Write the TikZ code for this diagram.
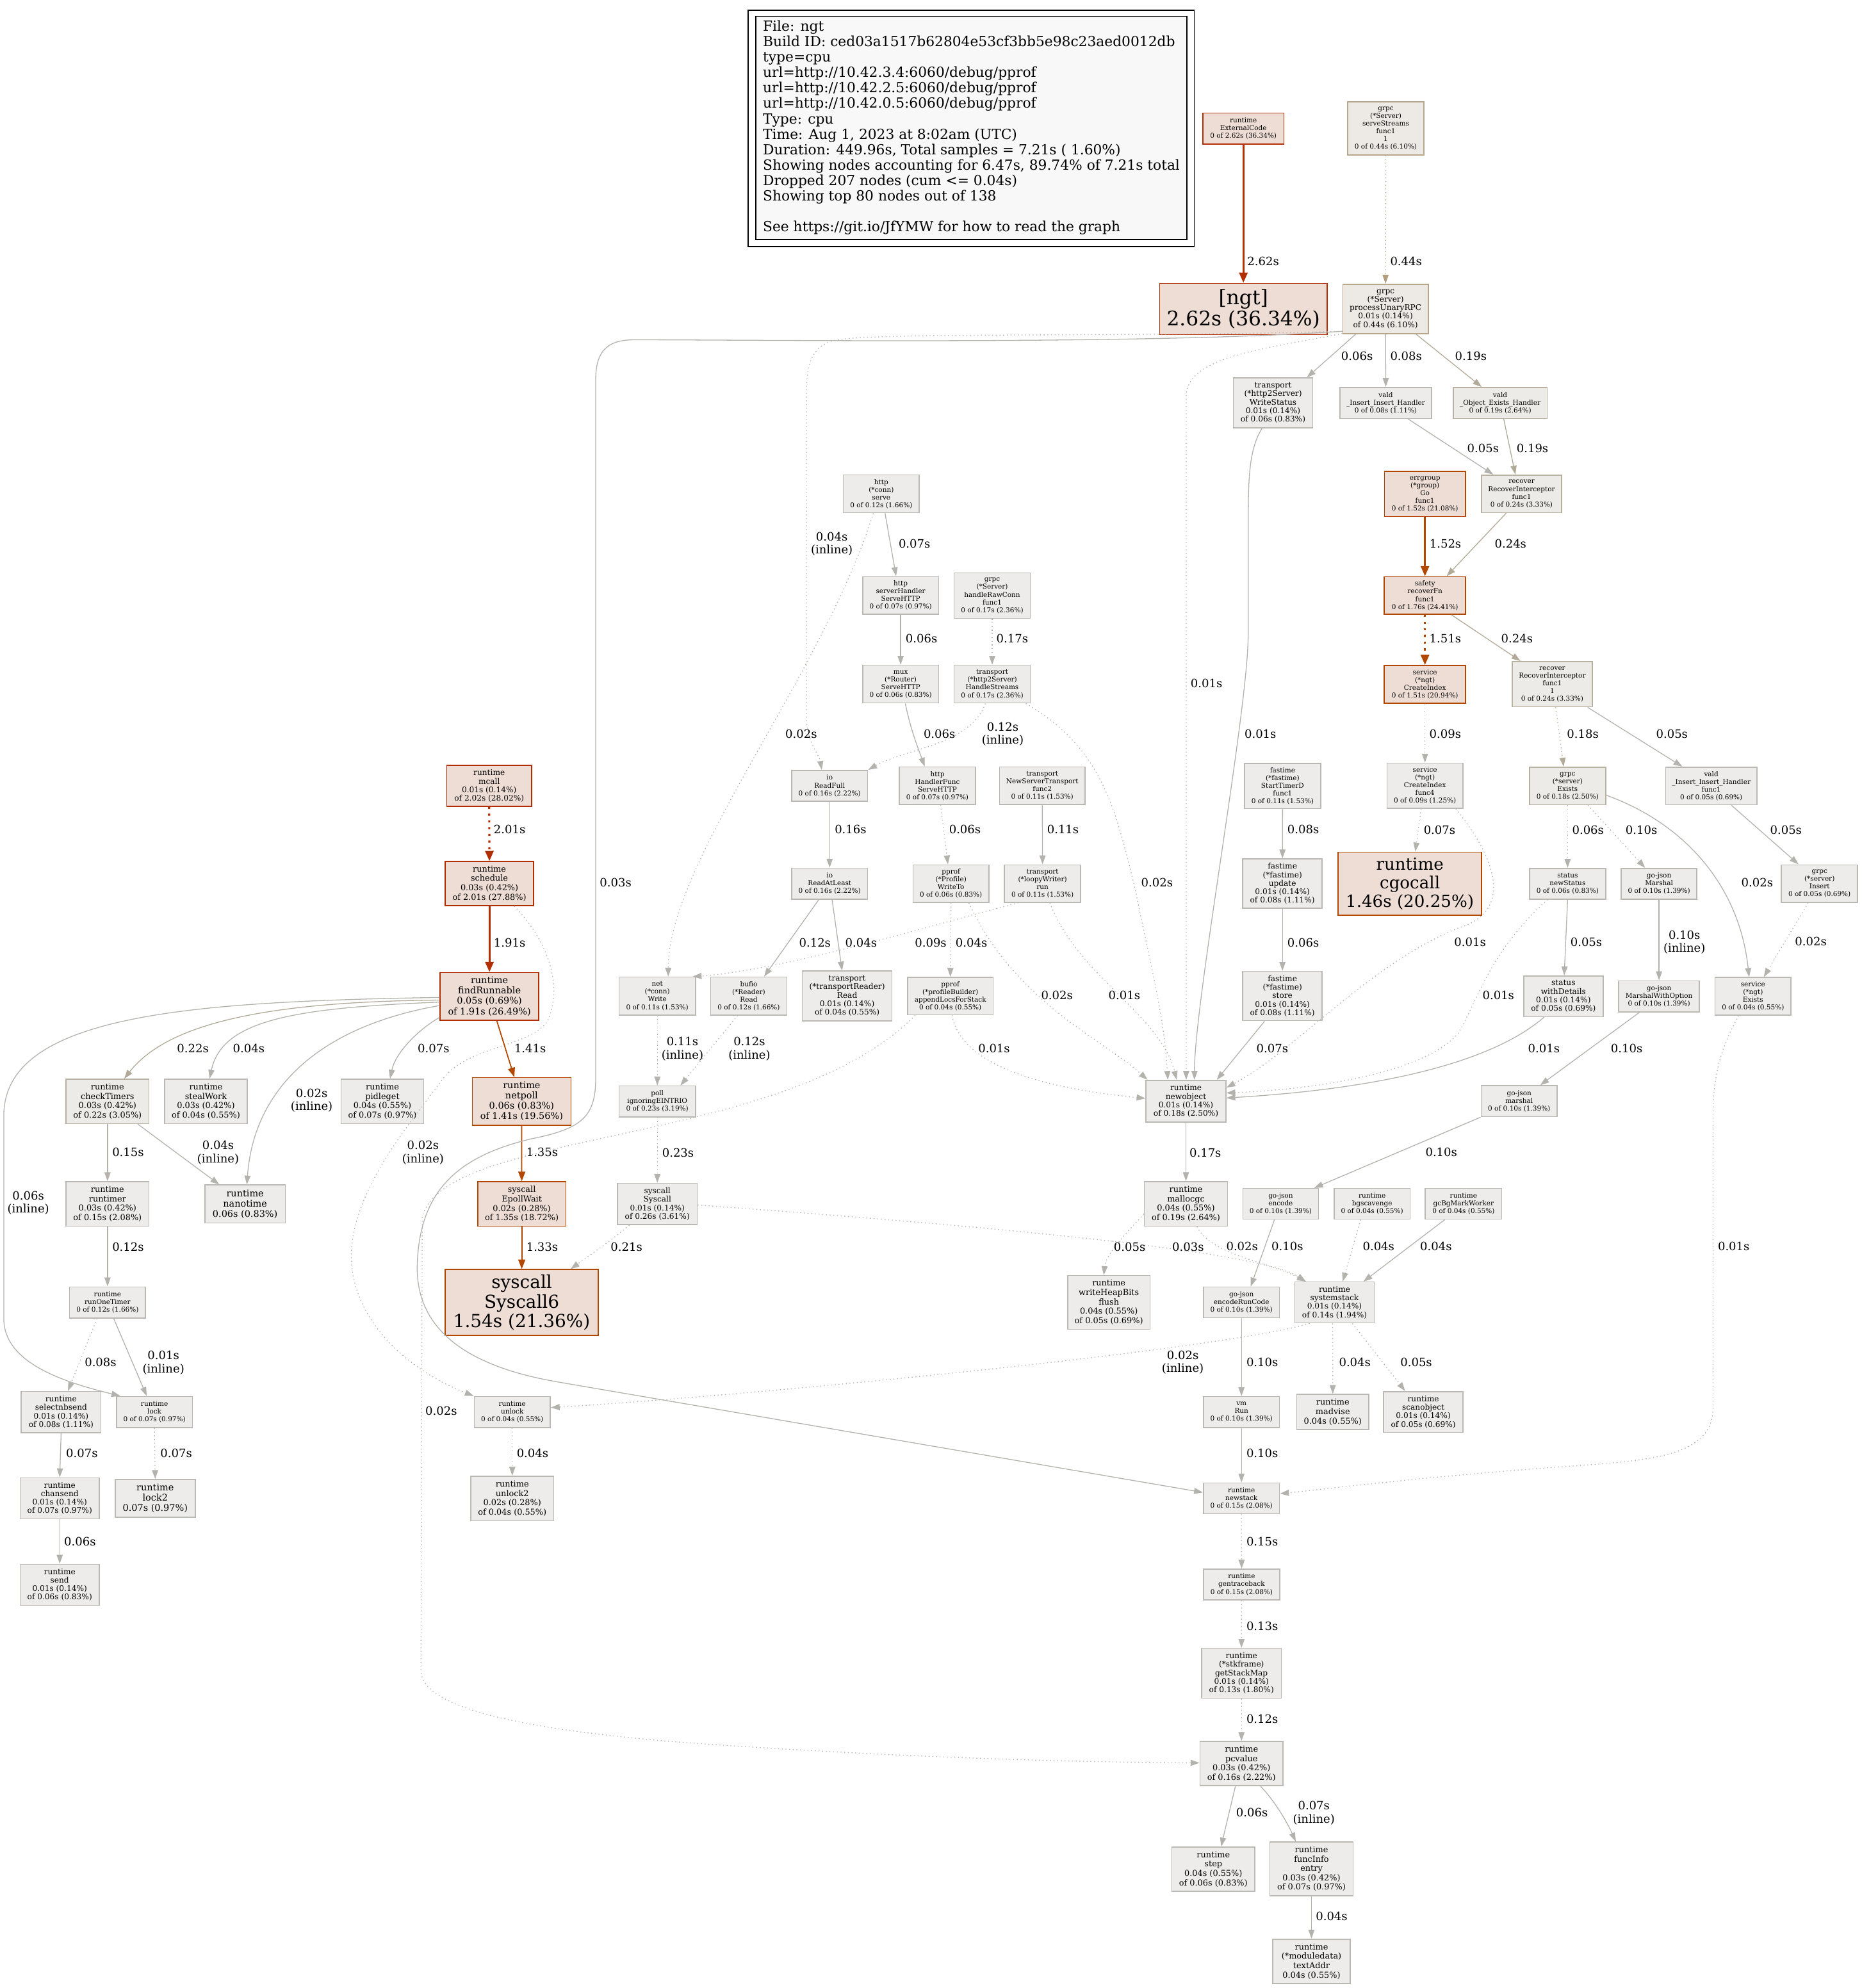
\documentclass[tikz,border=0pt]{standalone}
\usepackage{fontspec}
\setmainfont{DejaVu Serif}
\usetikzlibrary{arrows.meta}
\definecolor{gfill}{RGB}{237,236,234}
\definecolor{gline}{RGB}{186,184,178}
\definecolor{tgfill}{RGB}{237,235,231}
\definecolor{tgline}{RGB}{184,176,160}
\definecolor{tfill}{RGB}{237,233,228}
\definecolor{tline}{RGB}{182,166,138}
\definecolor{hfill}{RGB}{237,221,213}
\definecolor{hlineA}{RGB}{178,46,0}
\definecolor{hlineB}{RGB}{178,72,0}
\definecolor{egray}{RGB}{180,178,172}
\definecolor{etan}{RGB}{178,158,126}
\definecolor{etg}{RGB}{178,170,152}
\definecolor{ered}{RGB}{178,46,0}
\definecolor{eora}{RGB}{178,72,0}
\definecolor{legfill}{RGB}{248,248,248}
\tikzset{
  nbox/.style={rectangle, draw, inner sep=0pt, align=center, line width=0.8pt},
  gbox/.style={nbox, fill=gfill, draw=gline},
  tgbox/.style={nbox, fill=tgfill, draw=tgline},
  tbox/.style={nbox, fill=tfill, draw=tline},
  hboxA/.style={nbox, fill=hfill, draw=hlineA},
  hboxB/.style={nbox, fill=hfill, draw=hlineB},
  wh/.style 2 args={minimum width=#1, minimum height=#2},
  fzero/.style={font=\fontsize{5.3}{6.1}\selectfont},
  fone/.style={font=\fontsize{6.15}{6.7}\selectfont},
  fthree/.style={font=\fontsize{6.5}{7.4}\selectfont},
  ffive/.style={font=\fontsize{7.3}{8.1}\selectfont},
  fngt/.style={font=\fontsize{15.8}{16.9}\selectfont},
  fcgo/.style={font=\fontsize{13.2}{14.8}\selectfont},
  fsix/.style={font=\fontsize{14.1}{15.5}\selectfont},
  lab/.style={font=\fontsize{9.1}{10.4}\selectfont, align=center, inner sep=0pt},
  leg/.style={font=\fontsize{11}{12.2}\selectfont, anchor=base west, inner sep=0pt},
  ln/.style={draw=egray, line width=0.65pt, -{Triangle[length=7pt,width=4.8pt]}},
  dt/.style={dash pattern=on 0.7pt off 2.2pt},
  dth/.style={dash pattern=on 1.7pt off 3.6pt},
  hv/.style={draw=#1, line width=1.6pt, -{Triangle[length=8pt,width=6.5pt]}},
  md/.style={draw=#1, line width=0.9pt, -{Triangle[length=7.5pt,width=5.5pt]}},
}
\begin{document}
\begin{tikzpicture}[x=1pt,y=-1pt]
\useasboundingbox (0,0) rectangle (1468,1568);
\fill[white] (0,0) rectangle (1468,1568);

% legend
\draw[line width=0.7pt] (590,8) rectangle (942,194.5);
\draw[line width=0.7pt, fill=legfill] (596,13) rectangle (936,189);
\node[leg] (g0) at (601.5,24.4) {File: ngt};
\node[leg] (g1) at (601.5,36.6) {Build ID: ced03a1517b62804e53cf3bb5e98c23aed0012db};
\node[leg] (g2) at (601.5,48.8) {type=cpu};
\node[leg] (g3) at (601.5,60.9) {url=http://10.42.3.4:6060/debug/pprof};
\node[leg] (g4) at (601.5,73.1) {url=http://10.42.2.5:6060/debug/pprof};
\node[leg] (g5) at (601.5,85.3) {url=http://10.42.0.5:6060/debug/pprof};
\node[leg] (g6) at (601.5,97.5) {Type: cpu};
\node[leg] (g7) at (601.5,109.7) {Time: Aug 1, 2023 at 8:02am (UTC)};
\node[leg] (g8) at (601.5,121.8) {Duration: 449.96s, Total samples = 7.21s ( 1.60\%)};
\node[leg] (g9) at (601.5,134.0) {Showing nodes accounting for 6.47s, 89.74\% of 7.21s total};
\node[leg] (g10) at (601.5,146.2) {Dropped 207 nodes (cum <= 0.04s)};
\node[leg] (g11) at (601.5,158.4) {Showing top 80 nodes out of 138};
\node[leg] (g13) at (601.5,182.7) {See https://git.io/JfYMW for how to read the graph};

% nodes
\node[hboxA,fzero,wh={63.8}{24.4}] (ext) at (980.6,101.4) {runtime\\ExternalCode\\0 of 2.62s (36.34\%)};
\node[tbox,fzero,wh={60}{41.7}] (sstr) at (1092.9,101.3) {grpc\\(*Server)\\serveStreams\\func1\\1\\0 of 0.44s (6.10\%)};
\node[hboxA,fngt,wh={132.2}{40.5}] (ngt) at (980.6,243.7) {[ngt]\\2.62s (36.34\%)};
\node[tbox,fone,wh={67.3}{38.9}] (proc) at (1092.7,243.6) {grpc\\(*Server)\\processUnaryRPC\\0.01s (0.14\%)\\of 0.44s (6.10\%)};
\node[gbox,fone,wh={62.7}{39.2}] (wst) at (1004,317.7) {transport\\(*http2Server)\\WriteStatus\\0.01s (0.14\%)\\of 0.06s (0.83\%)};
\node[gbox,fzero,wh={72.2}{24.5}] (vins) at (1092.9,317.8) {vald\\\_Insert\_Insert\_Handler\\0 of 0.08s (1.11\%)};
\node[tgbox,fzero,wh={74}{24.5}] (vobj) at (1183.1,317.8) {vald\\\_Object\_Exists\_Handler\\0 of 0.19s (2.64\%)};
\node[hboxB,fzero,wh={63.8}{35.6}] (errg) at (1123.8,389.6) {errgroup\\(*group)\\Go\\func1\\0 of 1.52s (21.08\%)};
\node[tgbox,fzero,wh={63.3}{29.6}] (rif) at (1200,389.5) {recover\\RecoverInterceptor\\func1\\0 of 0.24s (3.33\%)};
\node[hboxB,fzero,wh={64.1}{29.7}] (safe) at (1123.8,469.7) {safety\\recoverFn\\func1\\0 of 1.76s (24.41\%)};
\node[hboxB,fzero,wh={64.1}{29.8}] (cidx) at (1123.8,539.8) {service\\(*ngt)\\CreateIndex\\0 of 1.51s (20.94\%)};
\node[tgbox,fzero,wh={63.2}{35.8}] (rif1) at (1224.2,539.6) {recover\\RecoverInterceptor\\func1\\1\\0 of 0.24s (3.33\%)};
\node[gbox,fzero,wh={60}{35.6}] (cif4) at (1123.8,619.7) {service\\(*ngt)\\CreateIndex\\func4\\0 of 0.09s (1.25\%)};
\node[tgbox,fzero,wh={60}{29.7}] (gex) at (1236.3,619.9) {grpc\\(*server)\\Exists\\0 of 0.18s (2.50\%)};
\node[gbox,fzero,wh={71.9}{29.7}] (vf1) at (1349.6,619.9) {vald\\\_Insert\_Insert\_Handler\\func1\\0 of 0.05s (0.69\%)};
\node[hboxB,fcgo,wh={113.1}{50}] (cgo) at (1111.9,697) {runtime\\cgocall\\1.46s (20.25\%)};
\node[gbox,fzero,wh={60}{24.2}] (nst) at (1236.3,697) {status\\newStatus\\0 of 0.06s (0.83\%)};
\node[gbox,fzero,wh={59.7}{24.2}] (gjm) at (1308.4,697) {go-json\\Marshal\\0 of 0.10s (1.39\%)};
\node[gbox,fzero,wh={60.1}{29.6}] (gin) at (1435,696.9) {grpc\\(*server)\\Insert\\0 of 0.05s (0.69\%)};
\node[gbox,fone,wh={62.6}{32.2}] (wdet) at (1233,785.8) {status\\withDetails\\0.01s (0.14\%)\\of 0.05s (0.69\%)};
\node[gbox,fzero,wh={63.8}{24.5}] (mwo) at (1308.4,785.8) {go-json\\MarshalWithOption\\0 of 0.10s (1.39\%)};
\node[gbox,fzero,wh={60}{29.6}] (sex) at (1382.5,785.8) {service\\(*ngt)\\Exists\\0 of 0.04s (0.55\%)};
\node[gbox,fzero,wh={60}{24.5}] (jmar) at (1198.1,868.5) {go-json\\marshal\\0 of 0.10s (1.39\%)};
\node[gbox,fzero,wh={59.7}{24.2}] (jenc) at (1010,949.5) {go-json\\encode\\0 of 0.10s (1.39\%)};
\node[gbox,fzero,wh={60}{24.2}] (bgs) at (1082.1,949.5) {runtime\\bgscavenge\\0 of 0.04s (0.55\%)};
\node[gbox,fzero,wh={60.3}{24.2}] (gcbg) at (1154.2,949.5) {runtime\\gcBgMarkWorker\\0 of 0.04s (0.55\%)};
\node[gbox,fzero,wh={59.9}{24.3}] (erc) at (979.1,1027.2) {go-json\\encodeRunCode\\0 of 0.10s (1.39\%)};
\node[gbox,fone,wh={62.6}{32.3}] (sysst) at (1052.5,1027.3) {runtime\\systemstack\\0.01s (0.14\%)\\of 0.14s (1.94\%)};
\node[gbox,fzero,wh={60}{24.4}] (vmrun) at (979.1,1113.7) {vm\\Run\\0 of 0.10s (1.39\%)};
\node[gbox,fthree,wh={56.7}{27.8}] (madv) at (1051.1,1113.7) {runtime\\madvise\\0.04s (0.55\%)};
\node[gbox,fone,wh={62.6}{32.3}] (scan) at (1122.5,1113.7) {runtime\\scanobject\\0.01s (0.14\%)\\of 0.05s (0.69\%)};
\node[gbox,fzero,wh={60}{24.3}] (nstk) at (979.1,1181.8) {runtime\\newstack\\0 of 0.15s (2.08\%)};
\node[gbox,fzero,wh={60.3}{24.2}] (gtb) at (979.2,1249.7) {runtime\\gentraceback\\0 of 0.15s (2.08\%)};
\node[gbox,fone,wh={62.7}{39.4}] (gsm) at (979.1,1319.8) {runtime\\(*stkframe)\\getStackMap\\0.01s (0.14\%)\\of 0.13s (1.80\%)};
\node[gbox,fthree,wh={65.5}{34.9}] (pcv) at (979.1,1391) {runtime\\pcvalue\\0.03s (0.42\%)\\of 0.16s (2.22\%)};
\node[gbox,fthree,wh={65.5}{34.9}] (stp) at (956.9,1474.2) {runtime\\step\\0.04s (0.55\%)\\of 0.06s (0.83\%)};
\node[gbox,fthree,wh={65.5}{42.3}] (finf) at (1034.3,1474) {runtime\\funcInfo\\entry\\0.03s (0.42\%)\\of 0.07s (0.97\%)};
\node[gbox,fthree,wh={60.9}{35.1}] (taddr) at (1034.3,1547) {runtime\\(*moduledata)\\textAddr\\0.04s (0.55\%)};
\node[gbox,fone,wh={63}{32.8}] (newo) at (935.3,868.5) {runtime\\newobject\\0.01s (0.14\%)\\of 0.18s (2.50\%)};
\node[gbox,fthree,wh={65.6}{35.1}] (mgc) at (935.3,949.5) {runtime\\mallocgc\\0.04s (0.55\%)\\of 0.19s (2.64\%)};
\node[gbox,fthree,wh={65}{42.3}] (whb) at (874.5,1027.2) {runtime\\writeHeapBits\\flush\\0.04s (0.55\%)\\of 0.05s (0.69\%)};
\node[gbox,fzero,wh={60}{29.9}] (hsrv) at (695,389.5) {http\\(*conn)\\serve\\0 of 0.12s (1.66\%)};
\node[gbox,fzero,wh={60}{29.6}] (shd) at (710.3,469.6) {http\\serverHandler\\ServeHTTP\\0 of 0.07s (0.97\%)};
\node[gbox,fzero,wh={60}{35.7}] (hrc) at (782.5,469.8) {grpc\\(*Server)\\handleRawConn\\func1\\0 of 0.17s (2.36\%)};
\node[gbox,fzero,wh={60}{29.8}] (mux) at (710.3,539.6) {mux\\(*Router)\\ServeHTTP\\0 of 0.06s (0.83\%)};
\node[gbox,fzero,wh={60}{29.8}] (hst) at (782.5,539.6) {transport\\(*http2Server)\\HandleStreams\\0 of 0.17s (2.36\%)};
\node[gbox,fzero,wh={60}{24.4}] (rfull) at (654.3,619.8) {io\\ReadFull\\0 of 0.16s (2.22\%)};
\node[gbox,fzero,wh={60}{29.6}] (hfn) at (739.3,619.8) {http\\HandlerFunc\\ServeHTTP\\0 of 0.07s (0.97\%)};
\node[gbox,fzero,wh={67.3}{29.6}] (nstp) at (822,619.8) {transport\\NewServerTransport\\func2\\0 of 0.11s (1.53\%)};
\node[gbox,fzero,wh={60}{35.7}] (stdf) at (1011.5,620) {fastime\\(*fastime)\\StartTimerD\\func1\\0 of 0.11s (1.53\%)};
\node[gbox,fzero,wh={60}{24.4}] (ralt) at (654.3,696.9) {io\\ReadAtLeast\\0 of 0.16s (2.22\%)};
\node[gbox,fzero,wh={60}{29.6}] (pwt) at (750,696.9) {pprof\\(*Profile)\\WriteTo\\0 of 0.06s (0.83\%)};
\node[gbox,fzero,wh={60}{29.6}] (loopy) at (822.2,696.9) {transport\\(*loopyWriter)\\run\\0 of 0.11s (1.53\%)};
\node[gbox,fone,wh={62.6}{38.9}] (upd) at (1011.4,696.9) {fastime\\(*fastime)\\update\\0.01s (0.14\%)\\of 0.08s (1.11\%)};
\node[gbox,fone,wh={70.8}{39.2}] (trr) at (668.1,785.5) {transport\\(*transportReader)\\Read\\0.01s (0.14\%)\\of 0.04s (0.55\%)};
\node[gbox,fzero,wh={67.5}{29.6}] (alfs) at (749.5,785.6) {pprof\\(*profileBuilder)\\appendLocsForStack\\0 of 0.04s (0.55\%)};
\node[gbox,fone,wh={62.6}{38.9}] (fst) at (1011.4,785.6) {fastime\\(*fastime)\\store\\0.01s (0.14\%)\\of 0.08s (1.11\%)};
\node[gbox,fzero,wh={60.2}{29.9}] (nwr) at (518.4,785.6) {net\\(*conn)\\Write\\0 of 0.11s (1.53\%)};
\node[gbox,fzero,wh={60}{29.9}] (bufr) at (590.5,785.6) {bufio\\(*Reader)\\Read\\0 of 0.12s (1.66\%)};
\node[gbox,fzero,wh={60.2}{24.3}] (poll) at (518.4,868.7) {poll\\ignoringEINTRIO\\0 of 0.23s (3.19\%)};
\node[gbox,fone,wh={62.8}{32.5}] (sysc) at (518.4,949.6) {syscall\\Syscall\\0.01s (0.14\%)\\of 0.26s (3.61\%)};
\node[hboxA,fone,wh={67}{32.2}] (mcall) at (385.8,619.9) {runtime\\mcall\\0.01s (0.14\%)\\of 2.02s (28.02\%)};
\node[hboxA,fthree,wh={69.8}{34.8}] (sched) at (386,696.9) {runtime\\schedule\\0.03s (0.42\%)\\of 2.01s (27.88\%)};
\node[hboxA,ffive,wh={77.8}{37.7}] (findr) at (386,785.9) {runtime\\findRunnable\\0.05s (0.69\%)\\of 1.91s (26.49\%)};
\node[tgbox,fthree,wh={65.5}{35.1}] (chk) at (84.8,868.7) {runtime\\checkTimers\\0.03s (0.42\%)\\of 0.22s (3.05\%)};
\node[gbox,fthree,wh={65.2}{35.1}] (steal) at (162.4,868.7) {runtime\\stealWork\\0.03s (0.42\%)\\of 0.04s (0.55\%)};
\node[gbox,fthree,wh={65.2}{35.1}] (pidl) at (301.6,868.7) {runtime\\pidleget\\0.04s (0.55\%)\\of 0.07s (0.97\%)};
\node[hboxB,ffive,wh={77.8}{37.4}] (npoll) at (411.4,868.7) {runtime\\netpoll\\0.06s (0.83\%)\\of 1.41s (19.56\%)};
\node[gbox,fthree,wh={65.5}{35.1}] (rtim) at (84.8,949.6) {runtime\\runtimer\\0.03s (0.42\%)\\of 0.15s (2.08\%)};
\node[gbox,ffive,wh={63.4}{29.9}] (nano) at (193.3,949.6) {runtime\\nanotime\\0.06s (0.83\%)};
\node[hboxB,fthree,wh={69.5}{35.1}] (epw) at (411.5,949.6) {syscall\\EpollWait\\0.02s (0.28\%)\\of 1.35s (18.72\%)};
\node[gbox,fzero,wh={60}{24.6}] (rot) at (84.8,1027.3) {runtime\\runOneTimer\\0 of 0.12s (1.66\%)};
\node[hboxB,fsix,wh={120.9}{51.9}] (sc6) at (411.5,1027.3) {syscall\\Syscall6\\1.54s (21.36\%)};
\node[gbox,fone,wh={62.8}{32.6}] (snb) at (48.2,1113.8) {runtime\\selectnbsend\\0.01s (0.14\%)\\of 0.08s (1.11\%)};
\node[gbox,fzero,wh={60}{24.5}] (lck) at (121.8,1113.7) {runtime\\lock\\0 of 0.07s (0.97\%)};
\node[gbox,fone,wh={62.5}{32.5}] (chs) at (47.1,1181.8) {runtime\\chansend\\0.01s (0.14\%)\\of 0.07s (0.97\%)};
\node[gbox,ffive,wh={63.1}{29.8}] (lck2) at (122.4,1181.8) {runtime\\lock2\\0.07s (0.97\%)};
\node[gbox,fone,wh={62.5}{32.5}] (snd) at (47.1,1250) {runtime\\send\\0.01s (0.14\%)\\of 0.06s (0.83\%)};
\node[gbox,fzero,wh={60}{24.5}] (unl) at (404,1113.7) {runtime\\unlock\\0 of 0.04s (0.55\%)};
\node[gbox,fthree,wh={65.5}{35.2}] (unl2) at (404,1181.9) {runtime\\unlock2\\0.02s (0.28\%)\\of 0.04s (0.55\%)};

% edges
\draw[hv=ered] (ext.south) -- (ngt.north);
\draw[ln,dt,draw=etan] (sstr.south) -- (proc.north);
\draw[ln] ([xshift=-23.4]proc.south) -- ([xshift=26.7]wst.north);
\draw[ln] (proc.south) -- (vins.north);
\draw[ln,draw=etg] ([xshift=23.9]proc.south) -- ([xshift=-14.6]vobj.north);
\draw[ln] ([xshift=17.6]vins.south) -- ([xshift=-22.3]rif.north);
\draw[ln,draw=etg] ([xshift=2.8]vobj.south) -- ([xshift=-4.9]rif.north);
\draw[hv=eora] (errg.south) -- (safe.north);
\draw[ln,draw=etg] ([xshift=-12.1]rif.south) -- ([xshift=17.1]safe.north);
\draw[hv=eora,dth] (safe.south) -- (cidx.north);
\draw[ln,draw=etg] ([xshift=20.9]safe.south) -- ([xshift=-25.1]rif1.north);
\draw[ln,dt] (cidx.south) -- (cif4.north);
\draw[ln,dt,draw=etg] ([xshift=2.7]rif1.south) -- ([xshift=-3.1]gex.north);
\draw[ln] ([xshift=27.9]rif1.south) -- ([xshift=-22.8]vf1.north);
\draw[ln,dt] ([xshift=-3]cif4.south) -- ([xshift=4.3]cgo.north);
\draw[ln,dt] ([xshift=24.3]cif4.south) .. controls (1190,690) and (1185,722) .. (1150,732) .. controls (1080,760) and (1020,830) .. ([yshift=10.7]newo.east);
\draw[ln,dt] (gex.south) -- (nst.north);
\draw[ln,dt] ([xshift=16.1]gex.south) -- ([xshift=-11]gjm.north);
\draw[ln] ([yshift=-7.3]gex.east) .. controls (1330,650) and (1372,700) .. ([xshift=-3.1]sex.north);
\draw[ln] ([xshift=15.9]vf1.south) -- ([xshift=-16.6]gin.north);
\draw[ln,dt] ([xshift=-9]gin.south) -- ([xshift=8.5]sex.north);
\draw[ln] (nst.south) -- ([xshift=0.6]wdet.north);
\draw[ln,dt] ([xshift=-15.7]nst.south) .. controls (1175,750) and (1165,790) .. (1150,815) .. controls (1120,850) and (1020,860) .. ([yshift=6.5]newo.east);
\draw[ln] ([xshift=-15.3]wdet.south) .. controls (1180,835) and (1100,858) .. ([yshift=2.5]newo.east);
\draw[ln] (gjm.south) -- (mwo.north);
\draw[ln] ([xshift=-15.4]mwo.south) -- ([xshift=16.6]jmar.north);
\draw[ln] (jmar.south west) -- ([xshift=26.4]jenc.north);
\draw[ln] ([xshift=-4.9]jenc.south) -- ([xshift=7.3]erc.north);
\draw[ln] (erc.south) -- (vmrun.north);
\draw[ln] (vmrun.south) -- (nstk.north);
\draw[ln,dt] ([xshift=-11.2]sex.south) .. controls (1352,835) and (1351,860) .. (1351,885) -- (1351,1110) .. controls (1351,1150) and (1300,1152) .. (1230,1157) .. controls (1120,1165) and (1040,1175) .. ([yshift=3.7]nstk.east);
\draw[ln,dt] (nstk.south) -- (gtb.north);
\draw[ln,dt] (gtb.south) -- (gsm.north);
\draw[ln,dt] (gsm.south) -- (pcv.north);
\draw[ln] ([xshift=-4.8]pcv.south) -- ([xshift=6.1]stp.north);
\draw[ln] ([xshift=15]pcv.south) .. controls (1005,1420) and (1015,1437) .. ([xshift=-12.4]finf.north);
\draw[ln] (finf.south) -- (taddr.north);
\draw[ln] ([xshift=-8.6]wst.south) .. controls (984.4,355) and (984.4,380) .. (984.4,420) -- (984.4,500) .. controls (984.4,560) and (942,790) .. ([xshift=6.7]newo.north);
\draw[ln] (stdf.south) -- (upd.north);
\draw[ln] (upd.south) -- (fst.north);
\draw[ln] ([xshift=-14.1]fst.south) -- ([xshift=24.3]newo.north);
\draw[ln] (newo.south) -- (mgc.north);
\draw[ln,dt] ([yshift=-8]mgc.west) .. controls (886,975) and (872,990) .. ([xshift=-4]whb.north);
\draw[ln,dt] ([xshift=8.7]mgc.south) .. controls (955,990) and (1000,995) .. ([xshift=-22.6]sysst.north);
\draw[ln,dt] ([yshift=-0.8]sysc.east) .. controls (750,965) and (990,985) .. ([xshift=-22.6]sysst.north);
\draw[ln,dt] ([xshift=-9]bgs.south) -- ([xshift=6.4]sysst.north);
\draw[ln] ([xshift=-14.8]gcbg.south) -- ([xshift=22.8]sysst.north);
\draw[ln,dt] ([xshift=-19.7]sysst.south) .. controls (960,1065) and (600,1100) .. ([yshift=3.5]unl.east);
\draw[ln,dt] ([xshift=-1.5]sysst.south) -- (madv.north);
\draw[ln,dt] ([xshift=14.1]sysst.south) -- ([xshift=-14.3]scan.north);
\draw[ln] ([xshift=3]hsrv.south) -- ([xshift=-3.6]shd.north);
\draw[ln,dt] ([xshift=-6.3]hsrv.south) .. controls (650,530) and (527,680) .. ([xshift=8.6]nwr.north);
\draw[ln] (shd.south) -- (mux.north);
\draw[ln] ([xshift=3.7]mux.south) .. controls (718,575) and (724,590) .. ([xshift=-10]hfn.north);
\draw[ln,dt] (hrc.south) -- (hst.north);
\draw[ln,dt] ([xshift=-5.4]hst.south) .. controls (765,588) and (715,590) .. (rfull.north east);
\draw[ln,dt] ([xshift=26.5]hst.south) .. controls (870,590) and (880,640) .. (895,700) .. controls (907,760) and (918,800) .. ([xshift=-14.3]newo.north);
\draw[ln] (rfull.south) -- (ralt.north);
\draw[ln,dt] ([xshift=2.5]hfn.south) -- ([xshift=-2.4]pwt.north);
\draw[ln] (nstp.south) -- (loopy.north);
\draw[ln] ([xshift=-8.5]ralt.south) -- ([xshift=12.1]bufr.north);
\draw[ln] ([xshift=1.9]ralt.south) -- ([xshift=-4]trr.north);
\draw[ln,dt] (pwt.south) -- (alfs.north);
\draw[ln,dt] ([xshift=14.1]pwt.south) .. controls (800,790) and (870,820) .. ([xshift=-30.3]newo.north);
\draw[ln,dt] ([xshift=-19]loopy.south) .. controls (740,728) and (620,765) .. ([xshift=27.9]nwr.north);
\draw[ln,dt] ([xshift=5.8]loopy.south) .. controls (850,770) and (915,800) .. ([xshift=-7.3]newo.north);
\draw[ln,dt] ([xshift=1.3]alfs.south) .. controls (758,840) and (820,858) .. ([yshift=2.2]newo.west);
\draw[ln,dt] ([xshift=-27.7]alfs.south) .. controls (620,905) and (350,890) .. (333,960) -- (332,1318) .. controls (333,1345) and (400,1363) .. (535,1374) .. controls (700,1386) and (850,1390) .. ([yshift=0.6]pcv.west);
\draw[ln,dt] (nwr.south) -- (poll.north);
\draw[ln,dt] ([xshift=-8.8]bufr.south) -- ([xshift=18.2]poll.north);
\draw[ln,dt] (poll.south) -- (sysc.north);
\draw[ln,dt] ([xshift=-22]sysc.south) .. controls (480,980) and (465,990) .. ([xshift=38.5]sc6.north);
\draw[hv=ered,dth] (mcall.south) -- (sched.north);
\draw[hv=ered] (sched.south) -- (findr.north);
\draw[ln,dt] ([xshift=19.6]sched.south) .. controls (430,740) and (445,775) .. (432,805) .. controls (420,825) and (370,825) .. (350,850) .. controls (320,890) and (278,940) .. (277,990) .. controls (277,1040) and (320,1080) .. (unl.north west);
\draw[ln,draw=etg] ([yshift=-2.9]findr.west) .. controls (200,790) and (130,810) .. ([xshift=13.2]chk.north);
\draw[ln] ([yshift=-4.5]findr.west) .. controls (230,795) and (175,805) .. ([xshift=2.9]steal.north);
\draw[ln] ([yshift=-7.2]findr.west) .. controls (250,810) and (200,860) .. ([xshift=1.4]nano.north);
\draw[ln] ([yshift=-16.5]findr.west) .. controls (330,812) and (312,830) .. ([xshift=6]pidl.north);
\draw[md=eora] ([xshift=5.8]findr.south) -- ([xshift=-5.8]npoll.north);
\draw[ln] ([yshift=-0.8]findr.west) .. controls (150,790) and (3,800) .. (3,880) -- (3,1040) .. controls (3,1075) and (50,1090) .. ([xshift=-26.9]lck.north);
\draw[ln] (chk.south) -- (rtim.north);
\draw[ln] ([xshift=23.9]chk.south) -- ([xshift=-20.4]nano.north);
\draw[ln] (rtim.south) -- (rot.north);
\draw[ln,dt] ([xshift=-8.3]rot.south) -- ([xshift=5.4]snb.north);
\draw[ln] ([xshift=4.9]rot.south) -- ([xshift=-6.1]lck.north);
\draw[ln] (snb.south) -- (chs.north);
\draw[ln] (chs.south) -- (snd.north);
\draw[ln,dt] (lck.south) -- (lck2.north);
\draw[ln,dt] (unl.south) -- (unl2.north);
\draw[md=eora] (npoll.south) -- (epw.north);
\draw[md=eora] (epw.south) -- (sc6.north);
\draw[ln] ([yshift=-17.7]proc.west) .. controls (900,272) and (600,268) .. (500,268) .. controls (476,268) and (469.8,280) .. (469.8,300) -- (469.8,850) .. controls (469.8,880) and (460,890) .. (420,898) .. controls (360,912) and (330,940) .. (329,1000) .. controls (329,1050) and (370,1078) .. (440,1090) -- ([yshift=4.7]nstk.west);
\draw[ln,dt] ([yshift=-17.7]proc.west) .. controls (900,266) and (700,262) .. (660,268) .. controls (641,272) and (636,285) .. (636,310) -- (636,565) .. controls (636,585) and (646,595) .. ([xshift=-6.2]rfull.north);
\draw[ln,dt] ([yshift=-19.4]proc.west) .. controls (1000,275) and (940,280) .. (935.5,310) -- ([xshift=0.2]newo.north);

% edge labels
\node[lab] (la1) at (996.2,205.9) {2.62s};
\node[lab] (la2) at (1108.9,205.9) {0.44s};
\node[lab] (la3) at (1070.2,280.6) {0.06s};
\node[lab] (la4) at (1108.9,280.6) {0.08s};
\node[lab] (la5) at (1160,280.6) {0.19s};
\node[lab] (la6) at (1169.6,353.8) {0.05s};
\node[lab] (la7) at (1208.6,353.8) {0.19s};
\node[lab] (la8) at (1139.9,429) {1.52s};
\node[lab] (la9) at (1191.3,429) {0.24s};
\node[lab] (la10) at (1139.8,503.8) {1.51s};
\node[lab] (la11) at (1196.4,503.8) {0.24s};
\node[lab] (la12) at (1139.8,579.1) {0.09s};
\node[lab] (la13) at (1248.3,579.1) {0.18s};
\node[lab] (la14) at (1318.6,579.1) {0.05s};
\node[lab] (la15) at (1135.3,654.5) {0.07s};
\node[lab] (la16) at (1252.4,654.5) {0.06s};
\node[lab] (la17) at (1294.5,654.5) {0.10s};
\node[lab] (la18) at (1408.5,654.5) {0.05s};
\node[lab] (la19) at (1385.8,696.2) {0.02s};
\node[lab] (la20) at (1159.4,743.1) {0.01s};
\node[lab] (la21) at (1251,743.1) {0.05s};
\node[lab] (la22) at (1328.4,743.1) {0.10s\\(inline)};
\node[lab] (la23) at (1428.1,742.7) {0.02s};
\node[lab] (la24) at (1181.7,785.1) {0.01s};
\node[lab] (la25) at (1003.4,826.9) {0.07s};
\node[lab] (la26) at (1217.6,826.9) {0.01s};
\node[lab] (la27) at (1282.9,826.9) {0.10s};
\node[lab] (la28) at (1136.7,908.8) {0.10s};
\node[lab] (la29) at (950.6,909) {0.17s};
\node[lab] (la30) at (890.9,983.5) {0.05s};
\node[lab] (la31) at (937,983.5) {0.03s};
\node[lab] (la32) at (979.6,983) {0.02s};
\node[lab] (la33) at (1015.3,983) {0.10s};
\node[lab] (la34) at (1087.2,983) {0.04s};
\node[lab] (la35) at (1132.5,983) {0.04s};
\node[lab] (la36) at (1367.3,983) {0.01s};
\node[lab] (la37) at (932.8,1074.6) {0.02s\\(inline)};
\node[lab] (la38) at (995.5,1074.3) {0.10s};
\node[lab] (la39) at (1068.5,1074.3) {0.04s};
\node[lab] (la40) at (1116.9,1074.3) {0.05s};
\node[lab] (la41) at (995.5,1146.2) {0.10s};
\node[lab] (la42) at (995.5,1215.8) {0.15s};
\node[lab] (la43) at (995.5,1282.3) {0.13s};
\node[lab] (la44) at (995.5,1355.7) {0.12s};
\node[lab] (la45) at (987.4,1429.5) {0.06s};
\node[lab] (la46) at (1036.2,1430) {0.07s\\(inline)};
\node[lab] (la47) at (1050.2,1511.4) {0.04s};
\node[lab] (lb1) at (656,429) {0.04s\\(inline)};
\node[lab] (lb2) at (721.2,429) {0.07s};
\node[lab] (lb3) at (726.7,503.8) {0.06s};
\node[lab] (lb4) at (798.3,503.8) {0.17s};
\node[lab] (lb5) at (951.5,539.2) {0.01s};
\node[lab] (lb6) at (631.9,578.9) {0.02s};
\node[lab] (lb7) at (740.9,578.9) {0.06s};
\node[lab] (lb8) at (790.8,579) {0.12s\\(inline)};
\node[lab] (lb9) at (994,578.9) {0.01s};
\node[lab] (lb10) at (670.8,654.3) {0.16s};
\node[lab] (lb11) at (761,654.3) {0.06s};
\node[lab] (lb12) at (838.3,654.3) {0.11s};
\node[lab] (lb13) at (1027.8,654.3) {0.08s};
\node[lab] (lb14) at (912.5,696) {0.02s};
\node[lab] (lb15) at (642.7,743.3) {0.12s};
\node[lab] (lb16) at (679.1,743.3) {0.04s};
\node[lab] (lb17) at (734,743.3) {0.09s};
\node[lab] (lb18) at (766.1,743.3) {0.04s};
\node[lab] (lb19) at (1027.8,743.3) {0.06s};
\node[lab] (lb20) at (833.6,785) {0.02s};
\node[lab] (lb21) at (886.7,785) {0.01s};
\node[lab] (lb22) at (538.2,827.2) {0.11s\\(inline)};
\node[lab] (lb23) at (591,827.2) {0.12s\\(inline)};
\node[lab] (lb24) at (784,826.9) {0.01s};
\node[lab] (lb25) at (534.7,909) {0.23s};
\node[lab] (lb26) at (494.1,983.5) {0.21s};
\node[lab] (lc1) at (401.9,654.2) {2.01s};
\node[lab] (lc2) at (485.5,696) {0.03s};
\node[lab] (lc3) at (401.9,743.3) {1.91s};
\node[lab] (lc4) at (152.1,827) {0.22s};
\node[lab] (lc5) at (196.2,827) {0.04s};
\node[lab] (lc6) at (341.9,827) {0.07s};
\node[lab] (lc7) at (418.1,827) {1.41s};
\node[lab] (lc8) at (245.8,868) {0.02s\\(inline)};
\node[lab] (lc9) at (101,908.8) {0.15s};
\node[lab] (lc10) at (172,909) {0.04s\\(inline)};
\node[lab] (lc11) at (333.6,909) {0.02s\\(inline)};
\node[lab] (lc12) at (427.6,908.8) {1.35s};
\node[lab] (lc13) at (22.3,948.8) {0.06s\\(inline)};
\node[lab] (lc14) at (101,983.6) {0.12s};
\node[lab] (lc15) at (427.6,983.6) {1.33s};
\node[lab] (lc16) at (79.3,1074.6) {0.08s};
\node[lab] (lc17) at (128.9,1074.7) {0.01s\\(inline)};
\node[lab] (lc18) at (64.6,1146.2) {0.07s};
\node[lab] (lc19) at (139,1146.2) {0.07s};
\node[lab] (lc20) at (63.1,1216) {0.06s};
\node[lab] (lc21) at (348,1112.9) {0.02s};
\node[lab] (lc22) at (420,1146.2) {0.04s};
\end{tikzpicture}
\end{document}
